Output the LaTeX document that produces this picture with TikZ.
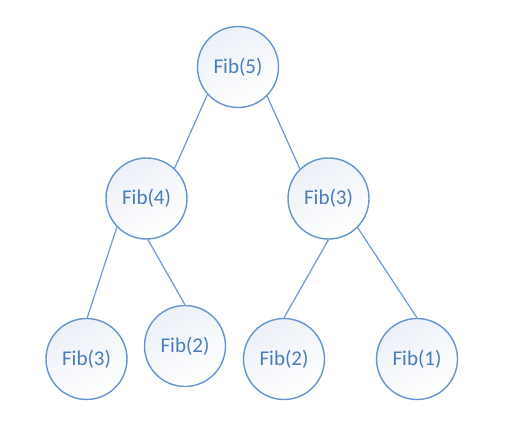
\documentclass[tikz,border=0pt]{standalone}
\usepackage{fontspec}
\setmainfont{Carlito}
\definecolor{ringc}{HTML}{6495D0}
\definecolor{textc}{HTML}{4A7DBA}
\definecolor{fillc}{HTML}{ECF0F7}
\definecolor{linec}{HTML}{6A9AD3}
\begin{document}
\begin{tikzpicture}[x=1pt,y=-1pt,
  fibnode/.style={circle,draw=ringc,line width=1.4pt,minimum size=81pt,inner sep=0pt,
    top color=fillc,bottom color=white,shading angle=30,
    text=textc,font=\fontsize{21}{24}\selectfont},
  edge/.style={draw=linec,line width=1.2pt}]
\useasboundingbox (0,0) rectangle (507,430);
\node[fibnode] (f5) at (238,67) {Fib(5)};
\node[fibnode] (f4) at (146.5,198.5) {Fib(4)};
\node[fibnode] (f3) at (328.5,198.5) {Fib(3)};
\node[fibnode] (f3b) at (86.5,359) {Fib(3)};
\node[fibnode] (f2a) at (185,346) {Fib(2)};
\node[fibnode] (f2b) at (284,359) {Fib(2)};
\node[fibnode] (f1) at (417,359) {Fib(1)};
\draw[edge] (f5.222) -- (f4.47);
\draw[edge] (f5.315) -- (f3.134);
\draw[edge] (f4.224) -- (f3b.89);
\draw[edge] (f4.272) -- (f2a.90);
\draw[edge] (f3.270) -- (f2b.90);
\draw[edge] (f3.315) -- (f1.90);
\end{tikzpicture}
\end{document}
